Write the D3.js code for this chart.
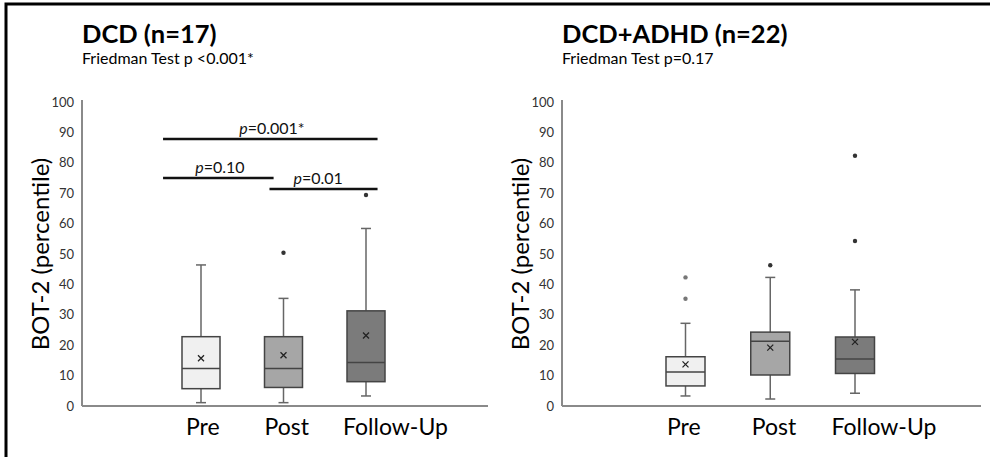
<!DOCTYPE html>
<html><head><meta charset="utf-8">
<script src="https://cdn.jsdelivr.net/npm/d3@7"></script>
<style>body{margin:0;background:#fff;}svg{display:block;}</style>
</head><body><svg id="c" width="990" height="457"></svg>
<script>
// ---- data ----
const categories = ["Pre", "Post", "Follow-Up"];
const yTicks = [0,10,20,30,40,50,60,70,80,90,100];
const panelTitles = ["DCD (n=17)", "DCD+ADHD (n=22)"];
const panelSubtitles = ["Friedman Test p <0.001*", "Friedman Test p=0.17"];
const yLabel = "BOT-2 (percentile)";
const fills = ["#f0f0f0", "#a6a6a6", "#7b7b7b"];
// DCD
const dcdLow    = [1.1, 1.1, 3.3];
const dcdQ1     = [5.7, 6.1, 8.0];
const dcdMedian = [12.3, 12.3, 14.3];
const dcdQ3     = [22.8, 22.8, 31.3];
const dcdHigh   = [46.4, 35.4, 58.4];
const dcdMean   = [15.7, 16.7, 23.2];
const dcdOutliers = [[], [50.4], [69.4]];
// DCD+ADHD
const adhdLow    = [3.3, 2.3, 4.2];
const adhdQ1     = [6.6, 10.2, 10.7];
const adhdMedian = [11.2, 21.3, 15.5];
const adhdQ3     = [16.2, 24.3, 22.7];
const adhdHigh   = [27.2, 42.3, 38.2];
const adhdMean   = [13.7, 19.2, 21.1];
const adhdOutliers = [[42.3, 35.3], [46.3], [82.3, 54.3]];
// pairwise comparisons (DCD only), from/to in category-index units
const brFrom  = [-0.46, -0.46, 0.83];
const brTo    = [2.14, 0.88, 2.14];
const brY     = [87.8, 75.0, 71.4];
const brLabX  = [0.86, 0.23, 1.42];
const brLabel = ["0.001*", "0.10", "0.01"];

const svg = d3.select("#c");
const FONT = "Lato, 'Open Sans', sans-serif";

// border
svg.append("rect").attr("x",6).attr("y",4).attr("width",1000).attr("height",500)
  .attr("fill","none").attr("stroke","#000").attr("stroke-width",3);

const y = d3.scaleLinear().domain([0,100]).range([406,102]);

function panel(opt){
  const g = svg.append("g");
  const x = d3.scaleLinear().domain([0,2]).range(opt.xr);
  const bw = opt.bw;
  // titles
  g.append("text").attr("x",opt.ax).attr("y",43).text(opt.title)
    .attr("font-family",FONT).attr("font-weight","bold").attr("font-size",25.5).attr("fill","#000");
  g.append("text").attr("x",opt.ax).attr("y",64).text(opt.sub)
    .attr("font-family",FONT).attr("font-size",16).attr("fill","#000");
  // y axis ticks
  const ax = d3.axisLeft(y).tickValues(yTicks).tickSize(0).tickPadding(8);
  const ag = g.append("g").attr("transform",`translate(${opt.ax},0)`).call(ax);
  ag.select(".domain").remove();
  ag.selectAll("text").attr("font-family",FONT).attr("font-size",13).attr("fill","#333");
  // axis lines
  g.append("line").attr("x1",opt.ax).attr("x2",opt.ax).attr("y1",y(100)-2).attr("y2",y(0))
    .attr("stroke","#8a8a8a").attr("stroke-width",2);
  g.append("line").attr("x1",opt.ax).attr("x2",opt.axEnd).attr("y1",y(0)).attr("y2",y(0))
    .attr("stroke","#8a8a8a").attr("stroke-width",2);
  // y label
  g.append("text").attr("transform",`translate(${opt.ax-33},${(y(0)+y(100))/2}) rotate(-90)`)
    .attr("text-anchor","middle").attr("font-family",FONT).attr("font-size",24).attr("fill","#000")
    .text(yLabel);
  // category labels
  categories.forEach((c,i)=>{
    g.append("text").attr("x",x(i)-bw/2+opt.labOff[i]).attr("y",435).text(c)
      .attr("font-family",FONT).attr("font-size",23).attr("fill","#000");
  });
  // boxes
  categories.forEach((c,i)=>{
    const cx = x(i);
    const wl = opt.low[i], wh = opt.high[i];
    g.append("line").attr("x1",cx).attr("x2",cx).attr("y1",y(opt.q3[i])).attr("y2",y(wh)).attr("stroke","#666").attr("stroke-width",1.5);
    g.append("line").attr("x1",cx).attr("x2",cx).attr("y1",y(opt.q1[i])).attr("y2",y(wl)).attr("stroke","#666").attr("stroke-width",1.5);
    g.append("line").attr("x1",cx-5).attr("x2",cx+5).attr("y1",y(wh)).attr("y2",y(wh)).attr("stroke","#666").attr("stroke-width",1.5);
    g.append("line").attr("x1",cx-5).attr("x2",cx+5).attr("y1",y(wl)).attr("y2",y(wl)).attr("stroke","#666").attr("stroke-width",1.5);
    g.append("rect").attr("x",cx-bw/2).attr("y",y(opt.q3[i])).attr("width",bw).attr("height",y(opt.q1[i])-y(opt.q3[i]))
      .attr("fill",fills[i]).attr("stroke","#444").attr("stroke-width",1.5);
    g.append("line").attr("x1",cx-bw/2).attr("x2",cx+bw/2).attr("y1",y(opt.med[i])).attr("y2",y(opt.med[i])).attr("stroke","#444").attr("stroke-width",1.5);
    const my = y(opt.mean[i]), s=3;
    g.append("path").attr("d",`M${cx-s},${my-s}L${cx+s},${my+s}M${cx-s},${my+s}L${cx+s},${my-s}`)
      .attr("stroke","#222").attr("stroke-width",1.3);
    opt.out[i].forEach(v=>{
      g.append("circle").attr("cx",cx).attr("cy",y(v)).attr("r",2.2).attr("fill",i===0?"#777":"#333");
    });
  });
  // brackets
  if(opt.br){
    brFrom.forEach((f,k)=>{
      g.append("line").attr("x1",x(f)).attr("x2",x(brTo[k])).attr("y1",y(brY[k])).attr("y2",y(brY[k]))
        .attr("stroke","#111").attr("stroke-width",2.5);
      const t = g.append("text").attr("x",x(brLabX[k])).attr("y",y(brY[k])-5).attr("text-anchor","middle")
        .attr("font-family",FONT).attr("font-size",16).attr("fill","#111");
      t.append("tspan").attr("font-style","italic").text("p");
      t.append("tspan").text("="+brLabel[k]);
    });
  }
}

panel({ax:82, axEnd:488, xr:[201,366], bw:38, labOff:[4,0,-4], title:panelTitles[0], sub:panelSubtitles[0],
  low:dcdLow,q1:dcdQ1,med:dcdMedian,q3:dcdQ3,high:dcdHigh,mean:dcdMean,out:dcdOutliers,br:true});
panel({ax:562, axEnd:981, xr:[685.5,855], bw:39, labOff:[1,1,-4], title:panelTitles[1], sub:panelSubtitles[1],
  low:adhdLow,q1:adhdQ1,med:adhdMedian,q3:adhdQ3,high:adhdHigh,mean:adhdMean,out:adhdOutliers,br:false});
</script></body></html>
